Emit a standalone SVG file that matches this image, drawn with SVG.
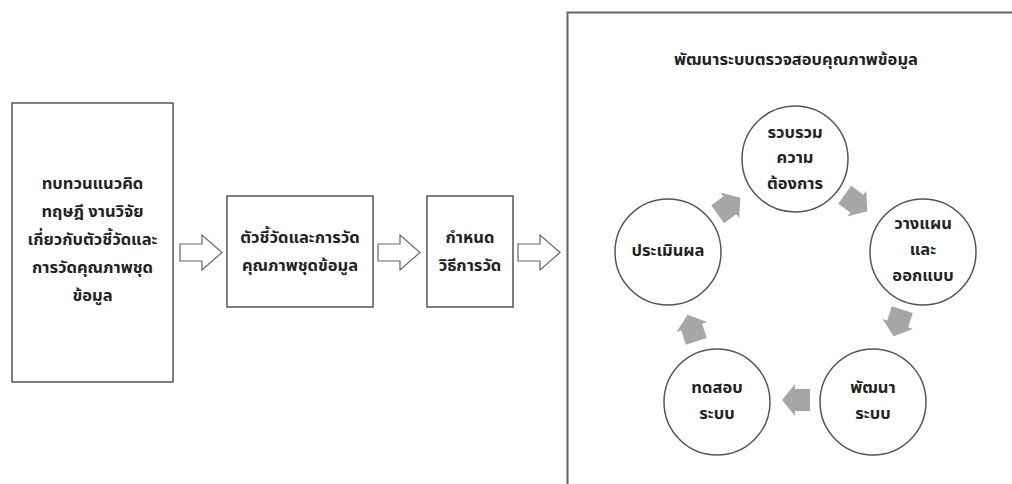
<svg xmlns="http://www.w3.org/2000/svg" width="1012" height="484" viewBox="0 0 1012 484">
<style>
.box{fill:#fff;stroke:#555;stroke-width:1.5}
.circ{fill:#fff;stroke:#555;stroke-width:1.5}
.frame{fill:none;stroke:#666;stroke-width:2}
.t{font-family:"Noto Sans Thai","Tahoma","Noto Sans",sans-serif;font-weight:bold;font-size:16.5px;fill:#222;text-anchor:middle}
.hollow{fill:#fff;stroke:#666;stroke-width:1.2;stroke-linejoin:miter}
.solid{fill:#a6a6a6;stroke:none}
</style>
<defs>
<path id="ha" d="M0,-8.5 H22 V-17.5 L42,0 L22,17.5 V8.5 H0 Z"/>
<path id="ga" d="M-14,-11 H1 V-16 L14,0 L1,16 V11 H-14 Z"/>
</defs>
<rect width="1012" height="484" fill="#fff"/>
<rect id="frame" class="frame" x="567.5" y="12.5" width="500" height="500"/>
<g id="n1">
<rect class="box" x="12" y="103" width="161" height="279"/>
<text class="t" x="92.5" y="189">ทบทวนแนวคิด</text>
<text class="t" x="92.5" y="217">ทฤษฎี งานวิจัย</text>
<text class="t" x="92.5" y="245">เกี่ยวกับตัวชี้วัดและ</text>
<text class="t" x="92.5" y="273">การวัดคุณภาพชุด</text>
<text class="t" x="92.5" y="301">ข้อมูล</text>
</g>
<g id="n2">
<rect class="box" x="227" y="196" width="146" height="111"/>
<text class="t" x="300" y="243">ตัวชี้วัดและการวัด</text>
<text class="t" x="300" y="271">คุณภาพชุดข้อมูล</text>
</g>
<g id="n3">
<rect class="box" x="427" y="196" width="86" height="111"/>
<text class="t" x="470" y="243">กำหนด</text>
<text class="t" x="470" y="271">วิธีการวัด</text>
</g>
<g id="title">
<text class="t" x="796" y="65">พัฒนาระบบตรวจสอบคุณภาพข้อมูล</text>
</g>
<g id="c1">
<circle class="circ" cx="795" cy="159" r="53"/>
<text class="t" x="795" y="138">รวบรวม</text>
<text class="t" x="795" y="163">ความ</text>
<text class="t" x="795" y="189">ต้องการ</text>
</g>
<g id="c2">
<circle class="circ" cx="923" cy="252" r="53"/>
<text class="t" x="923" y="229">วางแผน</text>
<text class="t" x="923" y="255">และ</text>
<text class="t" x="923" y="281">ออกแบบ</text>
</g>
<g id="c3">
<circle class="circ" cx="873" cy="402" r="53"/>
<text class="t" x="873" y="393">พัฒนา</text>
<text class="t" x="873" y="419">ระบบ</text>
</g>
<g id="c4">
<circle class="circ" cx="717" cy="402" r="53"/>
<text class="t" x="717" y="393">ทดสอบ</text>
<text class="t" x="717" y="419">ระบบ</text>
</g>
<g id="c5">
<circle class="circ" cx="668" cy="252" r="53"/>
<text class="t" x="668" y="256">ประเมินผล</text>
</g>
<g id="connectors">
<use href="#ha" class="hollow" transform="translate(180,252.5)"/>
<use href="#ha" class="hollow" transform="translate(378,252.5)"/>
<use href="#ha" class="hollow" transform="translate(518,252.5)"/>
<use href="#ga" class="solid" transform="translate(729,206) rotate(-36)"/>
<use href="#ga" class="solid" transform="translate(856,203) rotate(36)"/>
<use href="#ga" class="solid" transform="translate(898,323) rotate(108)"/>
<use href="#ga" class="solid" transform="translate(796,400) rotate(180)"/>
<use href="#ga" class="solid" transform="translate(692,328) rotate(-108)"/>
</g>
</svg>
